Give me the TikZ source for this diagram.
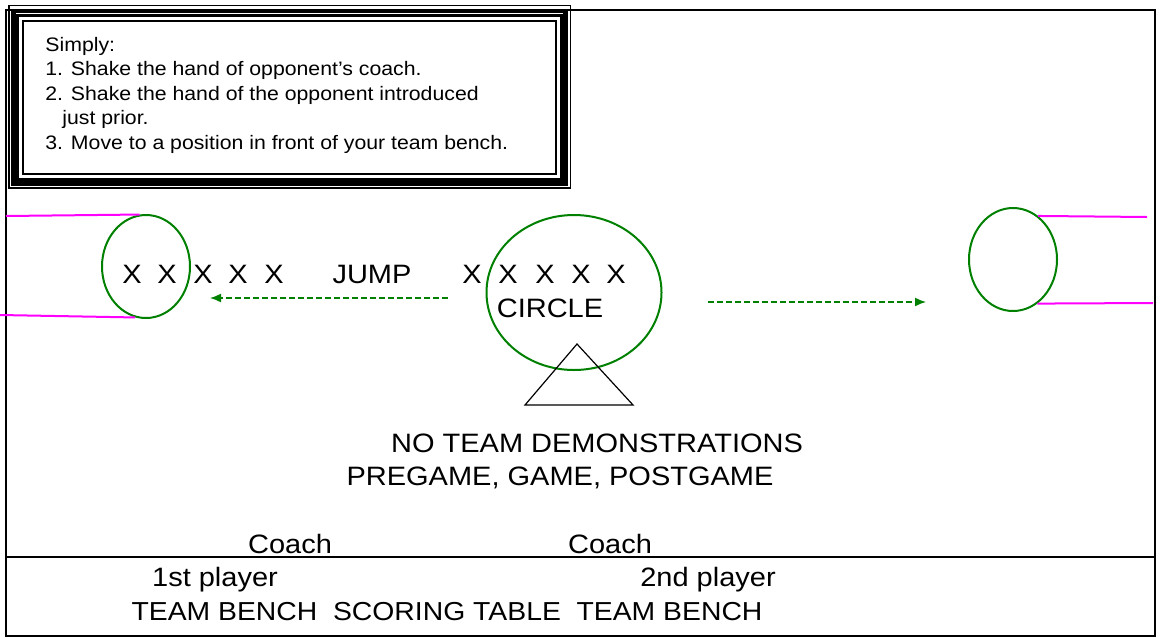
\documentclass[tikz,border=0pt]{standalone}
\usepackage{fontspec}
\setmainfont[FakeStretch=1.09]{Liberation Sans}
\usepackage{tikz}
\usetikzlibrary{shapes.geometric, arrows.meta}
\definecolor{ringgreen}{RGB}{0,128,0}
\definecolor{lanemagenta}{RGB}{255,0,255}

\begin{document}
\begin{tikzpicture}[x=0.5pt, y=-0.5pt,
    court/.style={font=\fontsize{13.3}{16}\selectfont, inner sep=0pt, anchor=base},
    rule/.style={font=\fontsize{9.75}{12}\selectfont, inner sep=0pt, anchor=base west},
    ring/.style={draw=ringgreen, line width=1pt, ellipse, inner sep=0pt},
    lane/.style={draw=lanemagenta, line width=1pt},
    pass/.style={draw=ringgreen, line width=0.75pt, dash pattern=on 3pt off 1.5pt, -{Latex[length=5.5pt, width=4.5pt]}}]
            \useasboundingbox (0,0) rectangle (1160,637);
            % court outline and the line in front of the benches
            \draw [line width=1pt] (6,10) rectangle (1155,636);
            \draw [line width=0.75pt] (6,557) -- (1155,557);

            % the rules box, four frames
            \node [draw, line width=0.7pt, minimum width=280.75pt, minimum height=91.25pt] (outerbox) at (289.75,96.75) {};
            \node [draw, line width=2.2pt, minimum width=276pt, minimum height=86.25pt] (thickbox) at (289.5,97.25) {};
            \node [draw, line width=1.3pt, minimum width=272pt, minimum height=82pt] (thinbox) at (289.25,97.5) {};
            \node [draw, line width=1pt, minimum width=266.75pt, minimum height=76.75pt] (innerbox) at (289.25,97.25) {};
            \node [rule] (simply) at (45,51) {Simply:};
            \node [rule] (step1) at (45,75.5) {1. Shake the hand of opponent’s coach.};
            \node [rule] (step2) at (45,100) {2. Shake the hand of the opponent introduced};
            \node [rule] (step2b) at (62,124.5) {just prior.};
            \node [rule] (step3) at (45,149) {3. Move to a position in front of your team bench.};

            % circles at both ends and in the middle
            \node [ring, minimum width=44pt, minimum height=51.5pt] (leftring) at (146,266.5) {};
            \node [ring, minimum width=87.5pt, minimum height=77.5pt] (jumpcircle) at (574,292.5) {};
            \node [ring, minimum width=44pt, minimum height=51.5pt] (rightring) at (1013,259.5) {};

            % lane lines
            \coordinate (laneLT) at (6,216);
            \coordinate (laneLB) at (0,315);
            \coordinate (laneRT) at (1147,217);
            \coordinate (laneRB) at (1153,303);
            \draw [lane] (laneLT) -- (leftring.97);
            \draw [lane] (laneLB) -- (leftring.258);
            \draw [lane] (rightring.60) -- (laneRT);
            \draw [lane] (rightring.-61) -- (laneRB);

            % players
            \node [court] (xl1) at (132,283) {X};
            \node [court] (xl2) at (167,283) {X};
            \node [court] (xl3) at (203,283) {X};
            \node [court] (xl4) at (238,283) {X};
            \node [court] (xl5) at (274,283) {X};
            \node [court] (jump) at (372,283) {JUMP};
            \node [court] (xr1) at (472,283) {X};
            \node [court] (xr2) at (508,283) {X};
            \node [court] (xr3) at (545,283) {X};
            \node [court] (xr4) at (581,283) {X};
            \node [court] (xr5) at (616,283) {X};
            \node [court] (circle) at (550,317) {CIRCLE};

            % direction of play
            \coordinate (tailL) at (448,298);
            \coordinate (headL) at (210,298);
            \coordinate (tailR) at (708,302);
            \coordinate (headR) at (926,302);
            \draw [pass] (tailL) -- (headL);
            \draw [pass] (tailR) -- (headR);

            % triangle below the circle
            \coordinate (apex) at (577,344);
            \coordinate (baseL) at (525,405);
            \coordinate (baseR) at (633,405);
            \draw [line width=0.6pt] (apex) -- (baseL) -- (baseR) -- cycle;

            \node [court] (nodemo) at (597,452) {NO TEAM DEMONSTRATIONS};
            \node [court] (games) at (560,485) {PREGAME, GAME, POSTGAME};

            % bench side
            \node [court] (coach1) at (290,553) {Coach};
            \node [court] (coach2) at (610,553) {Coach};
            \node [court] (player1) at (215,586) {1st player};
            \node [court] (player2) at (708,586) {2nd player};
            \node [court, font=\fontsize{13}{16}\selectfont] (benches) at (447,620) {TEAM BENCH\ \ SCORING TABLE\ \ TEAM BENCH};
        \end{tikzpicture}
\end{document}
